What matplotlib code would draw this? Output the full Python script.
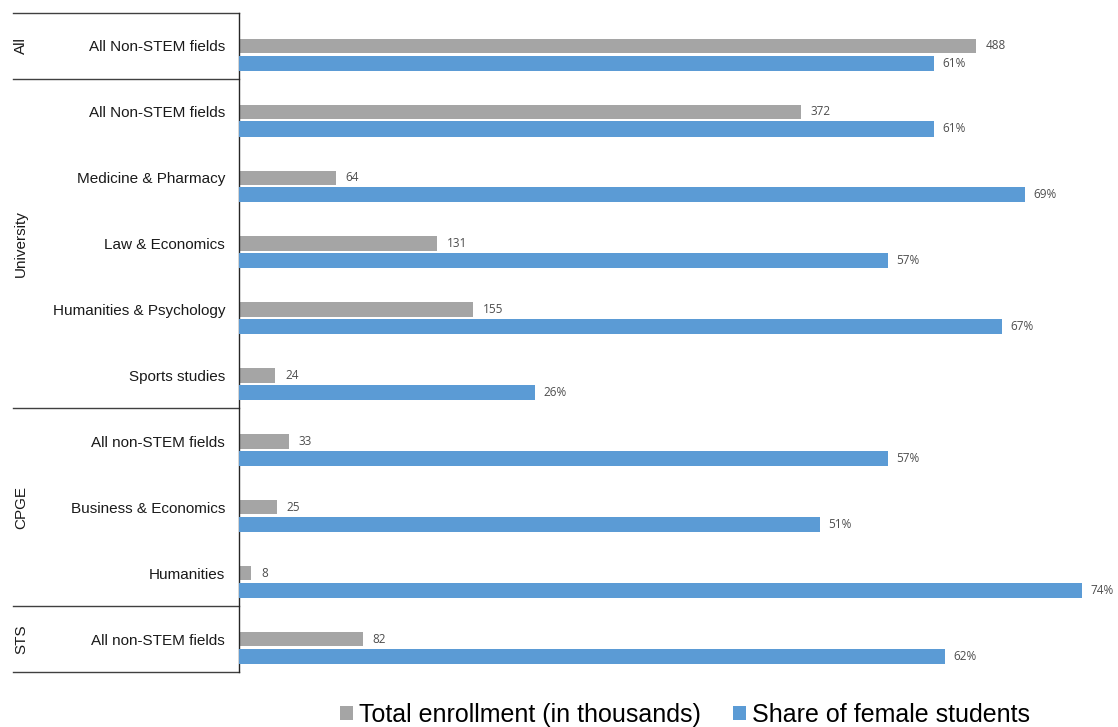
import matplotlib
matplotlib.use("Agg")
import matplotlib.pyplot as plt
from matplotlib.patches import Patch
from matplotlib.lines import Line2D
from matplotlib.transforms import blended_transform_factory

categories = ["All Non-STEM fields", "All Non-STEM fields", "Medicine & Pharmacy",
              "Law & Economics", "Humanities & Psychology", "Sports studies",
              "All non-STEM fields", "Business & Economics", "Humanities",
              "All non-STEM fields"]
groups = ["All", "University", "CPGE", "STS"]
group_sizes = [1, 5, 3, 1]
enrollment = [488, 372, 64, 131, 155, 24, 33, 25, 8, 82]
share_female = [61, 61, 69, 57, 67, 26, 57, 51, 74, 62]
series_names = ["Total enrollment (in thousands)", "Share of female students"]

GRAY = "#A5A5A5"
BLUE = "#5B9BD5"
LABEL_COLOR = "#4D4D4D"

plt.rcParams['font.family'] = ['Liberation Sans', 'DejaVu Sans']

W, H = 1118, 727
fig = plt.figure(figsize=(W / 100, H / 100), dpi=100)
left_px, right_px, top_px, bot_px = 239, 1118, 13, 672
ax = fig.add_axes([left_px / W, 1 - bot_px / H, (right_px - left_px) / W, (bot_px - top_px) / H])
ax2 = ax.twiny()

n = len(categories)
ypos = list(range(n))
off = 0.26
ax.barh(ypos, enrollment, height=0.22, color=GRAY)
ax2.barh([y + off for y in ypos], share_female, height=0.23, color=BLUE)

axw = right_px - left_px
ax.set_xlim(0, axw / 1.5102)
ax2.set_xlim(0, axw / 11.39)
ax.set_ylim(n - 0.5, -0.5)
ax2.set_ylim(n - 0.5, -0.5)

for y, v in zip(ypos, enrollment):
    ax.annotate(f"{v}", (v, y), xytext=(7.2, 0), textcoords="offset points",
                va="center", ha="left", fontsize=8.5, color=LABEL_COLOR,
                family=["Open Sans", "DejaVu Sans"])
for y, v in zip(ypos, share_female):
    ax2.annotate(f"{v}%", (v, y + off), xytext=(6, 0), textcoords="offset points",
                 va="center", ha="left", fontsize=8.5, color=LABEL_COLOR,
                 family=["Open Sans", "DejaVu Sans"])

for a in (ax, ax2):
    for s in ("top", "right", "bottom"):
        a.spines[s].set_visible(False)
    a.set_xticks([])
ax2.spines["left"].set_visible(False)
ax.spines["left"].set_color("#262626")
ax.spines["left"].set_linewidth(1.0)

ax.set_yticks(ypos)
ax.set_yticklabels(categories, fontsize=11, color="#1a1a1a")
ax.tick_params(axis="y", length=0, pad=10)
ax2.tick_params(axis="y", length=0)

trans = blended_transform_factory(ax.transAxes, ax.transData)
x0 = (13 - left_px) / axw
xg = (21 - left_px) / axw
start = 0
bounds = [-0.5]
for g, sz in zip(groups, group_sizes):
    center = start + (sz - 1) / 2
    ax.text(xg, center, g, rotation=90, ha="center", va="center",
            fontsize=11, color="#1a1a1a", transform=trans)
    start += sz
    bounds.append(start - 0.5)
for b in bounds:
    ax.add_line(Line2D([x0, 0], [b, b], transform=trans, clip_on=False,
                       color="#404040", lw=1.0))

handles = [Patch(facecolor=GRAY, edgecolor="none"), Patch(facecolor=BLUE, edgecolor="none")]
fig.legend(handles, series_names, loc="center", bbox_to_anchor=(685 / W, 1 - 715 / H),
           ncol=2, frameon=False, fontsize=18, handlelength=0.5, handleheight=0.5,
           handletextpad=0.25, columnspacing=1.3, borderaxespad=0, borderpad=0)

fig.savefig("out.png", dpi=100)
